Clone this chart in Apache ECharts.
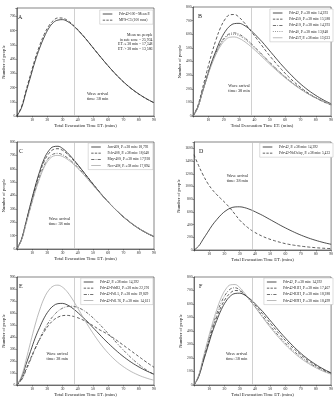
<!DOCTYPE html>
<html>
<head>
<meta charset="utf-8">
<script src="https://cdn.jsdelivr.net/npm/echarts@6/dist/echarts.min.js"></script>
<style>
  html, body { margin: 0; padding: 0; background: #fff; }
  #chart { width: 336px; height: 403px; }
</style>
</head>
<body>
<div id="chart"></div>
<script>
  // evacuation time samples (mins)
  const times = [0, 3, 6, 9, 12, 15, 18, 21, 24, 27, 30, 33, 36, 39, 42, 45, 48, 51, 54, 57, 60, 63, 66, 69, 72, 75, 78, 81, 84, 87, 90]
  const xTicks = [10, 20, 30, 40, 50, 60, 70, 80, 90]
  const waveTime = 38

  // panel A
  const aMean = [0, 55, 165, 275, 385, 478, 556, 618, 658, 675, 678, 667, 645, 616, 582, 546, 507, 467, 428, 389, 352, 316, 282, 250, 221, 194, 170, 148, 128, 110, 94]
  const aMfs = [0, 62, 178, 292, 402, 497, 575, 634, 672, 690, 689, 674, 650, 619, 584, 547, 507, 467, 428, 389, 351, 315, 281, 249, 220, 193, 169, 147, 127, 109, 93]
  // base scenario Pdr-42 (B, D, E, F)
  const pdr42 = [0, 60, 170, 280, 390, 480, 560, 620, 660, 678, 680, 668, 645, 615, 580, 545, 505, 465, 425, 385, 348, 312, 278, 246, 217, 190, 166, 144, 124, 106, 90]
  // panel B
  const b2 = [0, 70, 195, 325, 450, 560, 650, 712, 743, 745, 725, 690, 650, 605, 560, 515, 470, 428, 388, 350, 314, 280, 249, 220, 193, 169, 147, 128, 110, 95, 82]
  const b3 = [0, 62, 175, 285, 385, 468, 535, 580, 605, 610, 600, 580, 552, 520, 486, 452, 417, 383, 350, 318, 288, 260, 233, 208, 185, 164, 145, 128, 112, 98, 85]
  const b4 = [0, 60, 172, 280, 380, 462, 528, 573, 597, 600, 590, 570, 543, 512, 479, 445, 411, 378, 346, 315, 285, 257, 231, 207, 184, 163, 144, 127, 111, 97, 84]
  const b5 = [0, 58, 168, 275, 372, 452, 515, 557, 578, 580, 570, 551, 526, 497, 466, 434, 402, 370, 339, 309, 281, 254, 229, 205, 183, 163, 145, 128, 113, 99, 86]
  // panel C
  const c1 = [0, 70, 200, 335, 465, 580, 675, 735, 765, 768, 752, 722, 685, 645, 602, 558, 514, 471, 429, 389, 351, 315, 281, 249, 220, 193, 168, 146, 126, 108, 92]
  const c2 = [0, 68, 196, 328, 455, 566, 656, 714, 744, 750, 738, 712, 678, 640, 600, 558, 515, 472, 430, 390, 352, 316, 282, 250, 221, 194, 169, 147, 127, 109, 93]
  const c3 = [0, 65, 188, 315, 435, 540, 625, 682, 710, 715, 705, 683, 655, 622, 585, 546, 506, 466, 426, 387, 350, 315, 282, 251, 222, 195, 170, 148, 128, 110, 94]
  const c4 = [0, 63, 184, 308, 426, 528, 612, 667, 695, 700, 692, 672, 646, 615, 580, 542, 503, 464, 425, 387, 350, 315, 282, 251, 222, 195, 170, 148, 128, 110, 94]
  // panel D
  const dNoDelay = [1500, 1330, 1180, 1050, 950, 870, 800, 730, 650, 560, 470, 400, 340, 290, 250, 215, 185, 160, 138, 118, 100, 86, 74, 64, 55, 47, 40, 34, 29, 25, 21]
  // panel E
  const eR3 = [0, 45, 130, 220, 305, 380, 445, 500, 540, 565, 578, 580, 575, 565, 550, 532, 510, 487, 462, 442, 420, 395, 368, 340, 312, 284, 256, 228, 200, 173, 148]
  const eP15 = [0, 40, 120, 210, 300, 385, 460, 525, 577, 615, 640, 653, 656, 650, 635, 612, 582, 548, 510, 470, 428, 386, 344, 303, 264, 227, 193, 162, 134, 109, 88]
  const eP176 = [0, 70, 205, 355, 500, 625, 725, 790, 825, 832, 815, 778, 725, 662, 597, 532, 470, 412, 358, 309, 265, 226, 191, 161, 135, 112, 93, 76, 62, 50, 40]
  // panel F
  const fR1 = [0, 63, 180, 295, 408, 505, 585, 645, 683, 700, 697, 672, 642, 606, 567, 527, 486, 445, 405, 366, 330, 296, 264, 234, 206, 181, 158, 137, 119, 102, 88]
  const fR3 = [0, 66, 190, 312, 428, 530, 615, 676, 712, 720, 705, 675, 636, 595, 552, 509, 466, 424, 384, 346, 310, 277, 246, 218, 192, 168, 147, 128, 111, 96, 83]
  const fR9 = [0, 70, 200, 330, 452, 560, 650, 712, 742, 744, 722, 684, 640, 595, 548, 502, 457, 414, 373, 334, 298, 265, 235, 207, 182, 160, 140, 122, 106, 92, 80]

  const font = 'Liberation Serif'
  const styles = {
    solid: {color: '#222', width: 0.8, type: 'solid'},
    dashed: {color: '#333', width: 0.8, type: [3, 2]},
    dashdot: {color: '#444', width: 0.8, type: [3, 1.5, 0.8, 1.5]},
    dotted: {color: '#555', width: 0.8, type: [0.8, 1.2]},
    light: {color: '#aaa', width: 0.8, type: 'solid'}
  }
  // legend samples, drawn as thin filled paths in a 12x1 box
  const icons = {
    solid: 'path://M0,0h12v1h-12z',
    dashed: 'path://M0,0h3v1h-3z M4.5,0h3v1h-3z M9,0h3v1h-3z',
    dashdot: 'path://M0,0h4v1h-4z M5.5,0h1v1h-1z M8,0h4v1h-4z',
    dotted: 'path://M0,0h1v1h-1z M2.75,0h1v1h-1z M5.5,0h1v1h-1z M8.25,0h1v1h-1z M11,0h1v1h-1z',
    light: 'path://M0,0h12v1h-12z'
  }

  const panels = [
    {letter: 'A', grid: [13, 8, 141, 108], yMax: 760, yStep: 100, nameGap: 8, legendRight: 183, legendTop: 10,
      wave: [46, 135, 'left'],
      series: [
        ['Pdr-42-100 - Mean Pᵢ', aMean, 'solid'],
        ['MFS-C3 (100 runs)', aMfs, 'dashed']
      ]},
    {letter: 'B', grid: [193, 7, 141, 109], yMax: 800, yStep: 100, nameGap: 11, legendRight: 3, legendTop: 9,
      wave: [30, 200, 'center'],
      series: [
        ['Pdr-42, Pᵢ ≥38 min: 14,393', pdr42, 'solid'],
        ['Pdr-45S, Pᵢ ≥38 min: 15,588', b2, 'dashed'],
        ['Pdr-41S, Pᵢ ≥38 min: 14,293', b3, 'dashdot'],
        ['Pdr-40, Pᵢ ≥38 min: 13,848', b4, 'dotted'],
        ['Pdr-45T, Pᵢ ≥38 min: 13,633', b5, 'light']
      ]},
    {letter: 'C', grid: [14, 142, 140, 107], yMax: 800, yStep: 100, nameGap: 9, legendRight: 183, legendTop: 143,
      wave: [28, 205, 'center'],
      series: [
        ['Jun-40S, Pᵢ ≥38 min: 18,792', c1, 'solid'],
        ['Feb-40S, Pᵢ ≥38 min: 18,648', c2, 'dashed'],
        ['May-40S, Pᵢ ≥38 min: 17,938', c3, 'dashdot'],
        ['Nov-40S, Pᵢ ≥38 min: 17,894', c4, 'light']
      ]},
    {letter: 'D', grid: [194, 142, 140, 108], yMax: 1700, yStep: 200, nameGap: 13, legendRight: 3, legendTop: 143,
      wave: [28.5, 1130, 'center'],
      series: [
        ['Pdr-42, Pᵢ ≥38 min: 14,392', pdr42, 'solid'],
        ['Pdr-42-NoDelay, Pᵢ ≥38 min: 5,433', dNoDelay, 'dashed']
      ]},
    {letter: 'E', grid: [14, 277, 140, 108], yMax: 900, yStep: 100, nameGap: 9, legendRight: 183, legendTop: 278,
      wave: [26.5, 235, 'center'],
      series: [
        ['Pdr-42, Pᵢ ≥38 min: 14,392', pdr42, 'solid'],
        ['Pdr-42-PdrR3, Pᵢ ≥38 min: 22,291', eR3, 'dashed'],
        ['Pdr-42-Pd1.5, Pᵢ ≥38 min: 19,829', eP15, 'dashdot'],
        ['Pdr-42-Pd1.76, Pᵢ ≥38 min: 14,611', eP176, 'light']
      ]},
    {letter: 'F', grid: [194, 277, 140, 108], yMax: 800, yStep: 100, nameGap: 11, legendRight: 3, legendTop: 278,
      wave: [28, 210, 'center'],
      series: [
        ['Pdr-42, Pᵢ ≥38 min: 14,392', pdr42, 'solid'],
        ['Pdr-42-R1H, Pᵢ ≥38 min: 17,467', fR1, 'dashed'],
        ['Pdr-42-R3H, Pᵢ ≥38 min: 18,288', fR3, 'dashdot'],
        ['Pdr-42-R9H, Pᵢ ≥38 min: 18,499', fR9, 'light']
      ]}
  ]

  const chart = echarts.init(document.getElementById('chart'), null, {renderer: 'canvas'})

  const grid = [], xAxis = [], yAxis = [], legend = [], series = [], graphic = []

  panels.forEach((p, i) => {
    const [left, top, width, height] = p.grid
    grid.push({left, top, width, height, show: true, borderColor: '#333', borderWidth: 0.6, backgroundColor: '#fff'})
    xAxis.push({
      type: 'value', gridIndex: i, min: 0, max: 90, interval: 10,
      name: 'Total Evacuation Time ETᵢ (mins)', nameLocation: 'middle', nameGap: 6,
      nameTextStyle: {fontFamily: font, fontSize: 4.6, color: '#222'},
      axisLine: {show: true, lineStyle: {color: '#333', width: 0.6}},
      axisTick: {show: true, length: 1.5, lineStyle: {color: '#333', width: 0.5}},
      axisLabel: {fontFamily: font, fontSize: 3.8, color: '#222', margin: 2,
        formatter: v => xTicks.includes(v) ? String(v) : ''},
      splitLine: {show: false}
    })
    yAxis.push({
      type: 'value', gridIndex: i, min: 0, max: p.yMax, interval: p.yStep,
      name: 'Number of people', nameLocation: 'middle', nameGap: p.nameGap,
      nameTextStyle: {fontFamily: font, fontSize: 4.6, color: '#222'},
      axisLine: {show: true, lineStyle: {color: '#333', width: 0.6}},
      axisTick: {show: true, length: 1.5, lineStyle: {color: '#333', width: 0.5}},
      axisLabel: {fontFamily: font, fontSize: 3.6, color: '#222', margin: 1.5,
        formatter: v => v % p.yStep === 0 ? String(v) : ''},
      splitLine: {show: false}
    })
    legend.push({
      data: p.series.map(s => ({name: s[0], icon: icons[s[2]]})),
      orient: 'vertical', right: p.legendRight, top: p.legendTop,
      itemWidth: 11, itemHeight: 0.8, itemGap: 2.2, padding: [2, 3, 2, 3],
      borderColor: '#bbb', borderWidth: 0.5, backgroundColor: '#fff',
      textStyle: {fontFamily: font, fontSize: 3.6, color: '#222', padding: [0, 0, 0, 1]},
      selectedMode: false
    })
    p.series.forEach((s, k) => {
      const item = {
        type: 'line', name: s[0], xAxisIndex: i, yAxisIndex: i,
        data: s[1].map((v, j) => [times[j], v]),
        smooth: 0.4, symbol: 'none', lineStyle: styles[s[2]], itemStyle: {color: styles[s[2]].color},
        z: 3 + k
      }
      if (k === 0) {
        item.markLine = {
          silent: true, symbol: 'none', label: {show: false},
          lineStyle: {color: '#bbb', width: 0.7, type: 'solid'},
          data: [{xAxis: waveTime}]
        }
        const pts = [{
          coord: [p.wave[0], p.wave[1]], symbolSize: 0,
          label: {show: true, position: 'inside', align: p.wave[2], formatter: 'Wave arrival\ntime: 38 min',
            fontFamily: font, fontSize: 4.2, color: '#222', lineHeight: 5}
        }]
        if (p.letter === 'A') {
          pts.push({
            coord: [89, 520], symbolSize: 0,
            label: {show: true, position: 'inside', align: 'right',
              formatter: 'Mean no. people\nin safe zone = 25,934\nETᵢ ≤ 38 min = 17,348\nETᵢ > 38 min = 13,586',
              fontFamily: font, fontSize: 3.8, color: '#222', lineHeight: 4.6}
          })
        }
        item.markPoint = {silent: true, symbol: 'circle', data: pts}
      }
      series.push(item)
    })
    graphic.push({
      type: 'text', left: left + 5, top: top + 6,
      style: {text: p.letter, font: '6px "' + font + '"', fill: '#222'}
    })
  })

  chart.setOption({
    animation: false,
    backgroundColor: '#fff',
    grid, xAxis, yAxis, legend, series, graphic
  })
</script>
</body>
</html>
